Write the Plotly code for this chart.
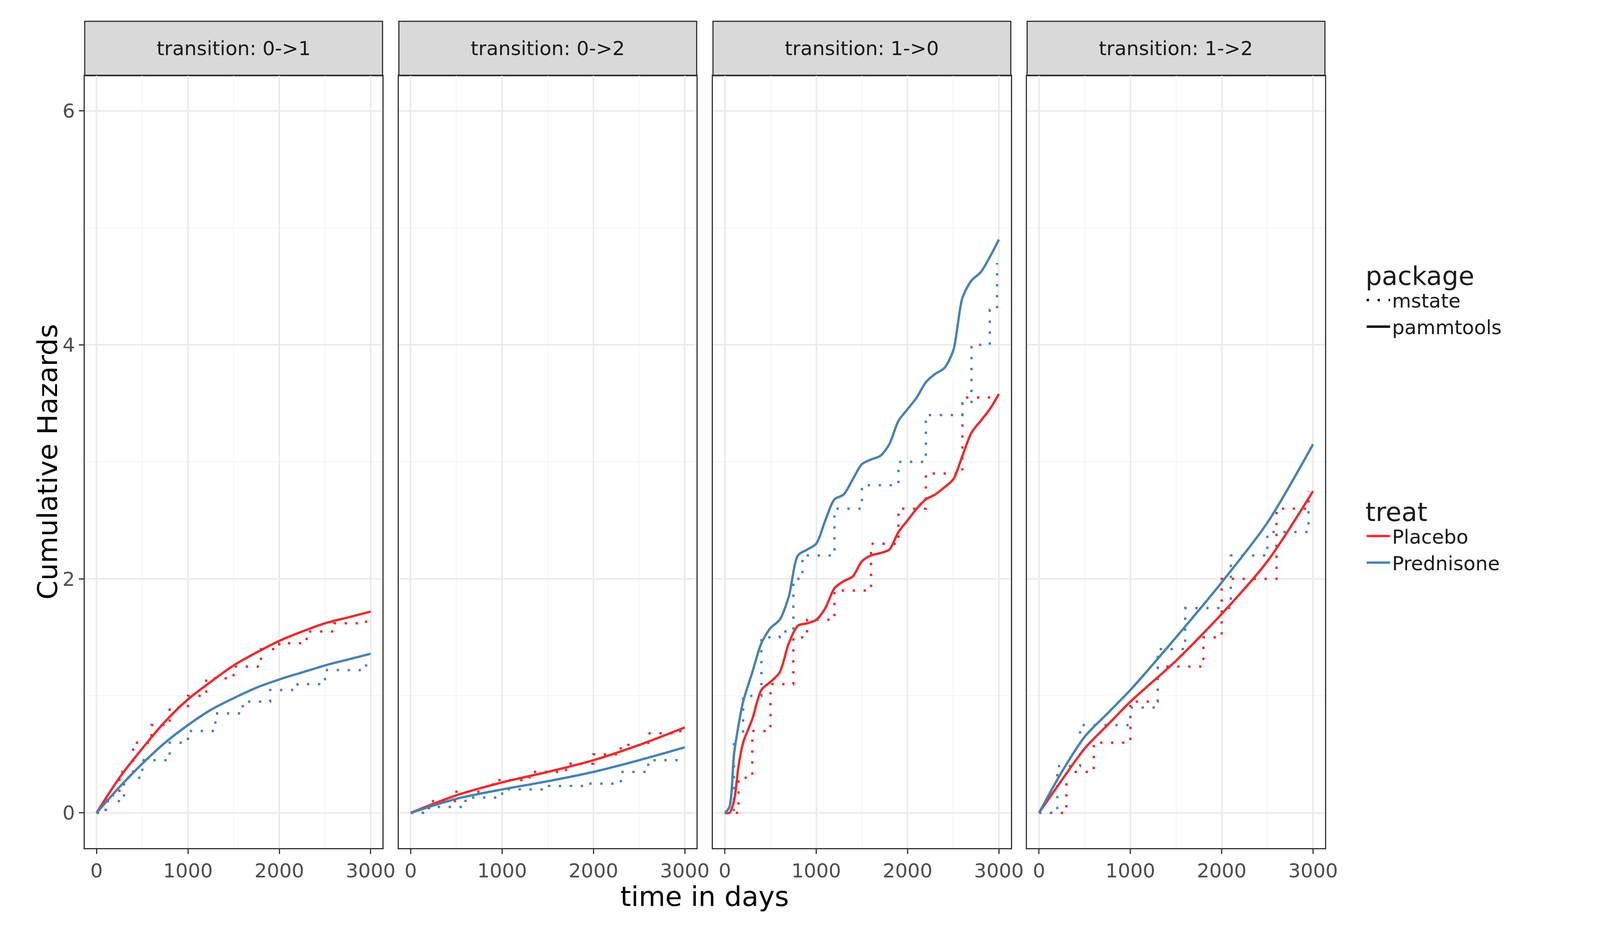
import plotly.graph_objects as go

RED = "#EE2A2E"
BLUE = "#4682B4"

panels = ["transition: 0->1", "transition: 0->2", "transition: 1->0", "transition: 1->2"]

# pammtools (smooth) estimates
t01 = [0, 250, 500, 750, 1000, 1250, 1500, 1750, 2000, 2250, 2500, 2750, 3000]
pam01_plac = [0, 0.3, 0.55, 0.78, 0.97, 1.12, 1.26, 1.37, 1.47, 1.55, 1.62, 1.67, 1.72]
pam01_pred = [0, 0.22, 0.42, 0.6, 0.75, 0.88, 0.98, 1.07, 1.14, 1.2, 1.26, 1.31, 1.36]

t02 = [0, 500, 1000, 1500, 2000, 2500, 3000]
pam02_plac = [0, 0.15, 0.26, 0.35, 0.45, 0.58, 0.73]
pam02_pred = [0, 0.12, 0.2, 0.27, 0.35, 0.45, 0.56]

t10 = [0, 50, 100, 150, 200, 300, 400, 500, 600, 700, 800, 900, 1000, 1100, 1200, 1300, 1400, 1500,
       1600, 1700, 1800, 1900, 2000, 2100, 2200, 2300, 2400, 2500, 2600, 2700, 2800, 2900, 3000]
pam10_pred = [0, 0.05, 0.5, 0.75, 0.95, 1.2, 1.45, 1.58, 1.65, 1.85, 2.2, 2.25, 2.3, 2.5, 2.68, 2.72, 2.85,
              2.98, 3.02, 3.05, 3.15, 3.35, 3.45, 3.55, 3.68, 3.75, 3.8, 3.95, 4.4, 4.55, 4.62, 4.75, 4.9]
pam10_plac = [0, 0.0, 0.1, 0.4, 0.6, 0.8, 1.05, 1.12, 1.2, 1.45, 1.6, 1.62, 1.65, 1.75, 1.92, 1.98, 2.02,
              2.15, 2.2, 2.22, 2.25, 2.4, 2.5, 2.6, 2.68, 2.72, 2.78, 2.85, 3.05, 3.25, 3.35, 3.45, 3.58]

t12 = [0, 250, 500, 750, 1000, 1500, 2000, 2500, 3000]
pam12_plac = [0, 0.28, 0.55, 0.75, 0.95, 1.3, 1.7, 2.15, 2.75]
pam12_pred = [0, 0.35, 0.65, 0.85, 1.05, 1.5, 1.97, 2.48, 3.15]

# mstate (step) estimates
ms01_plac_t = [0, 100, 250, 400, 600, 800, 1000, 1200, 1500, 1800, 2000, 2300, 2600, 2950]
ms01_plac = [0, 0.15, 0.35, 0.6, 0.75, 0.9, 1.0, 1.15, 1.25, 1.4, 1.45, 1.55, 1.62, 1.7]
ms01_pred_t = [0, 100, 300, 500, 800, 1000, 1300, 1600, 1900, 2200, 2500, 2950]
ms01_pred = [0, 0.1, 0.3, 0.45, 0.6, 0.7, 0.85, 0.95, 1.05, 1.1, 1.22, 1.32]

ms02_plac_t = [0, 200, 500, 900, 1300, 1700, 2000, 2300, 2600, 2950]
ms02_plac = [0, 0.1, 0.18, 0.28, 0.35, 0.42, 0.5, 0.58, 0.68, 0.75]
ms02_pred_t = [0, 200, 600, 1000, 1500, 1900, 2300, 2600, 2950]
ms02_pred = [0, 0.05, 0.13, 0.2, 0.23, 0.25, 0.35, 0.45, 0.5]

ms10_plac_t = [0, 150, 300, 500, 750, 900, 1200, 1600, 1900, 2200, 2600, 2950]
ms10_plac = [0, 0.3, 0.7, 1.1, 1.5, 1.65, 1.9, 2.3, 2.6, 2.9, 3.55, 3.55]
ms10_pred_t = [0, 100, 200, 400, 600, 750, 850, 1200, 1500, 1900, 2200, 2600, 2700, 2900, 2980]
ms10_pred = [0, 0.6, 1.0, 1.5, 1.55, 2.0, 2.2, 2.6, 2.8, 3.0, 3.4, 3.5, 4.0, 4.3, 4.7]

ms12_plac_t = [0, 300, 600, 1000, 1300, 1800, 2000, 2600, 2950]
ms12_plac = [0, 0.35, 0.6, 0.95, 1.25, 1.5, 2.0, 2.6, 2.75]
ms12_pred_t = [0, 200, 450, 1000, 1300, 1600, 2100, 2500, 2950]
ms12_pred = [0, 0.4, 0.75, 0.9, 1.4, 1.75, 2.2, 2.4, 2.6]

pam = [(t01, pam01_plac, pam01_pred), (t02, pam02_plac, pam02_pred),
       (t10, pam10_plac, pam10_pred), (t12, pam12_plac, pam12_pred)]
ms = [(ms01_plac_t, ms01_plac, ms01_pred_t, ms01_pred), (ms02_plac_t, ms02_plac, ms02_pred_t, ms02_pred),
      (ms10_plac_t, ms10_plac, ms10_pred_t, ms10_pred), (ms12_plac_t, ms12_plac, ms12_pred_t, ms12_pred)]

doms = [(80, 372), (388, 680), (696, 988), (1004, 1296)]
y0, y1, ys = 1 - 698 / 775, 1 - 60 / 775, 1 - 15 / 775

fig = go.Figure()
for i in range(4):
    ax = "" if i == 0 else str(i + 1)
    xa, ya = "x" + ax, "y" + ax
    pt, pp, pr = pam[i]
    mpt, mp, mrt, mr = ms[i]
    for x, y, c in [(mpt, mp, RED), (mrt, mr, BLUE)]:
        fig.add_trace(go.Scatter(x=x, y=y, mode="lines", line=dict(color=c, width=6, dash="6px,22px", shape="hv"),
                                 xaxis=xa, yaxis=ya, showlegend=False))
    for y, c in [(pp, RED), (pr, BLUE)]:
        fig.add_trace(go.Scatter(x=pt, y=y, mode="lines", line=dict(color=c, width=6, shape="spline", smoothing=0.8),
                                 xaxis=xa, yaxis=ya, showlegend=False))
    d = (doms[i][0] / 1550, doms[i][1] / 1550)
    fig.update_layout(**{
        "xaxis" + ax: dict(domain=d, range=[-130, 3130], tickvals=[0, 1000, 2000, 3000], gridcolor="#EBEBEB",
                           gridwidth=4, minor=dict(tickvals=[500, 1500, 2500], showgrid=True, gridcolor="#F4F4F4", gridwidth=2),
                           showline=True, mirror=True, linecolor="#333333", linewidth=3, zeroline=False,
                           ticks="outside", ticklen=12, tickcolor="#333333", tickwidth=3,
                           tickfont=dict(size=50, color="#4D4D4D"), anchor=ya),
        "yaxis" + ax: dict(domain=[y0, y1], range=[-0.3, 6.3], tickvals=[0, 2, 4, 6], gridcolor="#EBEBEB",
                           gridwidth=4, minor=dict(tickvals=[1, 3, 5], showgrid=True, gridcolor="#F4F4F4", gridwidth=2),
                           showline=True, mirror=True, linecolor="#333333", linewidth=3, zeroline=False,
                           ticks="outside" if i == 0 else "", ticklen=12, tickcolor="#333333", tickwidth=3,
                           showticklabels=(i == 0), tickfont=dict(size=50, color="#4D4D4D"), anchor=xa),
    })
    fig.add_shape(type="rect", xref="paper", yref="paper", x0=d[0], x1=d[1], y0=y1, y1=ys,
                  fillcolor="#D9D9D9", line=dict(color="#333333", width=3), layer="below")
    fig.add_annotation(text=panels[i], xref="paper", yref="paper", x=(d[0] + d[1]) / 2, y=(y1 + ys) / 2,
                       xanchor="center", yanchor="middle", showarrow=False, font=dict(size=50, color="#1A1A1A"))

# legend entries
for name, dash in [("mstate", "6px,22px"), ("pammtools", "solid")]:
    fig.add_trace(go.Scatter(x=[None], y=[None], mode="lines", name=name, legend="legend",
                             line=dict(color="black", width=6, dash=dash)))
for name, c in [("Placebo", RED), ("Prednisone", BLUE)]:
    fig.add_trace(go.Scatter(x=[None], y=[None], mode="lines", name=name, legend="legend2",
                             line=dict(color=c, width=6)))

leg = dict(font=dict(size=50, color="#1A1A1A"), bgcolor="rgba(0,0,0,0)", itemwidth=60, tracegroupgap=20)
fig.update_layout(
    autosize=True, margin=dict(l=0, r=0, t=0, b=0),
    plot_bgcolor="white", paper_bgcolor="white",
    font=dict(family="DejaVu Sans"),
    legend=dict(x=1335 / 1550, y=1 - 205 / 775, xanchor="left", yanchor="top",
                title=dict(text="package", font=dict(size=66)), **leg),
    legend2=dict(x=1335 / 1550, y=1 - 400 / 775, xanchor="left", yanchor="top",
                 title=dict(text="treat", font=dict(size=66)), **leg),
)
fig.add_annotation(text="time in days", xref="paper", yref="paper", x=688 / 1550, y=1 - 752 / 775,
                   showarrow=False, font=dict(size=70, color="black"))
fig.add_annotation(text="Cumulative Hazards", xref="paper", yref="paper", x=27 / 1550, y=(y0 + y1) / 2,
                   showarrow=False, textangle=-90, font=dict(size=70, color="black"))
fig.write_html("out.html", default_width="100%", default_height="100vh")
